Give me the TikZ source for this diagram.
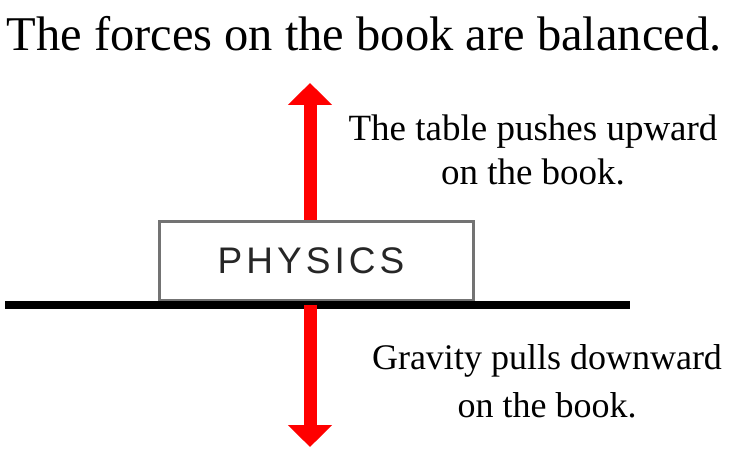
\documentclass[tikz,border=0pt]{standalone}
\usepackage{fontspec}
\setmainfont{Liberation Serif}
\newfontfamily\booksans{Liberation Sans}[LetterSpace=11]
\usetikzlibrary{arrows.meta,positioning}

\begin{document}
\begin{tikzpicture}[x=1pt, y=-1pt,
  force/.style={draw=red, line width=13pt, -{Triangle[width=43pt, length=22pt]}},
  book/.style={draw=gray!90!black, line width=3pt, fill=white,
    minimum width=314pt, minimum height=79pt, inner sep=0pt,
    font=\booksans\fontsize{37}{40}\selectfont, text=black!85},
  note/.style={align=center, font=\fontsize{37}{44}\selectfont},
]
  \useasboundingbox (0,0) rectangle (730,454);

  \node[font=\fontsize{48.5}{52}\selectfont] (title) at (364,34) {The forces on the book are balanced.};

  % table and book
  \coordinate (tableL) at (5,305);
  \coordinate (tableR) at (630,305);
  \coordinate (upTip) at (310,83);
  \coordinate (downTip) at (310,447);
  \node[book] (bk) at (316,261) {PHYSICS\kern10pt};
  \draw[line width=8pt] (tableL) -- (tableR);

  % forces
  \draw[force] (bk.north -| upTip) -- (upTip);
  \draw[force] (tableL -| downTip) -- (downTip);

  \node[note] (up) at (533,150) {The table pushes upward\\on the book.};
  \node[note, font=\fontsize{36}{48}\selectfont] (down) at (547,381) {Gravity pulls downward\\on the book.};
\end{tikzpicture}
\end{document}
